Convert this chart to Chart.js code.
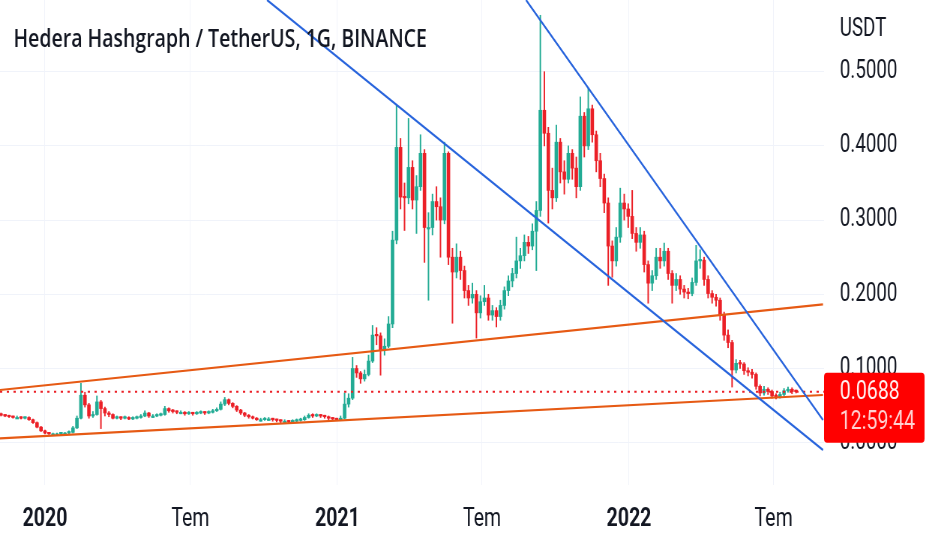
<!DOCTYPE html>
<html>
<head>
<meta charset="utf-8">
<title>HBAR / USDT</title>
<script src="https://cdn.jsdelivr.net/npm/chart.js@4.4.0/dist/chart.umd.min.js"></script>
<style>
  html, body { margin: 0; padding: 0; background: #fff; overflow: hidden; }
  /* the chart is laid out wide and squeezed horizontally, like the snapshot */
  #wrap { width: 1243px; height: 550px; transform: scaleX(0.7498); transform-origin: 0 0; }
</style>
</head>
<body>
<div id="wrap"><canvas id="chart" width="1243" height="550"></canvas></div>
<script>
// x values are days counted from 2020-01-01, one candle every 5 days
const firstDay = -55;
const dayStep = 5;
const firstOpen = 0.038;

const closes = [
  .037,.036,.035,.034,.034,.033,.034,.031,.027,.021,
  .016,.013,.012,.012,.012,.013,.013,.014,.020,.033,
  .064,.051,.036,.038,.055,.046,.040,.038,.033,.034,
  .033,.034,.032,.033,.034,.036,.040,.036,.036,.037,
  .038,.046,.043,.042,.041,.041,.039,.040,.039,.040,
  .041,.040,.041,.043,.045,.052,.058,.053,.049,.044,
  .040,.037,.035,.033,.031,.031,.032,.032,.031,.030,
  .029,.029,.028,.029,.030,.031,.034,.037,.036,.037,
  .036,.035,.033,.032,.031,.033,.052,.060,.100,.094,
  .086,.092,.110,.145,.144,.125,.130,.160,.273,.398,
  .331,.330,.371,.327,.345,.390,.290,.290,.325,.318,
  .300,.390,.250,.230,.250,.232,.205,.195,.200,.175,
  .190,.195,.172,.178,.170,.185,.205,.218,.228,.245,
  .252,.270,.265,.285,.313,.448,.417,.340,.330,.405,
  .365,.355,.390,.370,.345,.440,.400,.450,.415,.380,
  .356,.323,.265,.245,.277,.323,.315,.305,.282,.270,
  .280,.240,.215,.225,.250,.245,.258,.228,.212,.220,
  .207,.203,.201,.216,.245,.246,.220,.201,.196,.192,
  .172,.145,.135,.098,.107,.106,.097,.095,.092,.076,
  .067,.072,.069,.063,.062,.065,.070,.072,.069,.0688
];

const highs = [
  .040,.038,.037,.036,.036,.035,.035,.035,.032,.028,
  .022,.017,.014,.013,.013,.014,.014,.016,.022,.036,
  .080,.068,.053,.042,.063,.057,.048,.042,.039,.036,
  .035,.036,.035,.035,.036,.038,.043,.041,.038,.039,
  .040,.049,.047,.045,.043,.043,.042,.042,.041,.042,
  .043,.042,.043,.045,.047,.055,.061,.059,.054,.050,
  .045,.041,.038,.036,.034,.033,.034,.034,.033,.032,
  .031,.031,.030,.031,.032,.033,.036,.039,.039,.039,
  .038,.037,.036,.034,.033,.036,.067,.066,.115,.104,
  .096,.098,.118,.158,.155,.148,.140,.170,.285,.455,
  .410,.350,.437,.380,.360,.415,.395,.310,.335,.345,
  .330,.405,.392,.262,.268,.258,.238,.212,.215,.205,
  .198,.212,.200,.185,.182,.192,.210,.225,.235,.277,
  .262,.280,.278,.295,.325,.576,.500,.425,.370,.428,
  .410,.380,.400,.395,.385,.466,.445,.478,.455,.420,
  .390,.362,.330,.272,.290,.343,.335,.322,.340,.290,
  .290,.285,.245,.232,.262,.262,.269,.262,.232,.228,
  .225,.212,.208,.222,.266,.260,.250,.225,.205,.200,
  .195,.176,.152,.138,.112,.111,.108,.101,.099,.094,
  .078,.076,.074,.071,.066,.068,.073,.075,.074,.071
];

const lows = [
  .036,.035,.034,.033,.033,.032,.032,.030,.026,.020,
  .015,.012,.011,.011,.011,.011,.012,.012,.013,.019,
  .032,.048,.033,.034,.037,.019,.036,.035,.032,.032,
  .031,.032,.031,.031,.032,.033,.035,.034,.034,.035,
  .036,.037,.041,.040,.039,.039,.037,.038,.037,.038,
  .039,.038,.039,.040,.042,.044,.050,.051,.047,.042,
  .038,.035,.033,.032,.030,.029,.030,.030,.029,.028,
  .027,.027,.027,.027,.028,.029,.030,.033,.034,.035,
  .034,.033,.031,.030,.030,.030,.032,.048,.058,.088,
  .080,.083,.090,.108,.132,.091,.118,.128,.155,.268,
  .315,.286,.322,.315,.282,.340,.243,.192,.280,.300,
  .250,.295,.240,.161,.222,.220,.195,.185,.188,.141,
  .168,.185,.165,.165,.156,.165,.180,.198,.210,.222,
  .235,.245,.255,.260,.232,.305,.400,.296,.315,.325,
  .350,.335,.350,.355,.330,.340,.385,.395,.405,.365,
  .345,.310,.212,.223,.238,.270,.300,.290,.275,.258,
  .262,.230,.188,.205,.220,.235,.238,.220,.188,.205,
  .200,.195,.194,.198,.212,.235,.212,.195,.188,.184,
  .165,.138,.128,.075,.094,.100,.092,.090,.087,.072,
  .063,.064,.065,.060,.059,.060,.063,.068,.066,.067
];

// axis ticks
const tickDays = [0, 182, 366, 547, 731, 912];
const tickLabels = ['2020', 'Tem', '2021', 'Tem', '2022', 'Tem'];
const priceTicks = [0, 0.1, 0.2, 0.3, 0.4, 0.5];

// drawn trend lines, two anchor points each (day, price)
const blueUpper = [[277.9, 0.5966], [973.8, -0.0098]];
const blueLower = [[602.1, 0.5966], [973.8, 0.0306]];
const orangeUpper = [[-56.3, 0.0710], [973.8, 0.1865]];
const orangeLower = [[-56.3, 0.0059], [973.8, 0.0643]];

const lastPrice = 0.0688;
const countdown = '12:59:44';
const title = 'Hedera Hashgraph / TetherUS, 1G, BINANCE';

const xMin = -56.3, xMax = 975.1;
const yMin = -0.0570, yMax = 0.5966;

const upColor = '#22ab94';
const downColor = '#eb2027';

// candles open where the previous one closed
const opens = closes.map((c, i) => i === 0 ? firstOpen : closes[i - 1]);
const days = closes.map((c, i) => firstDay + i * dayStep);
const candleColors = closes.map((c, i) => c >= opens[i] ? upColor : downColor);

function trend(points, color) {
  return {
    type: 'line',
    data: points.map(p => ({ x: p[0], y: p[1] })),
    borderColor: color,
    borderWidth: 2.2,
    pointRadius: 0,
    fill: false,
    order: 0
  };
}

const overlay = {
  id: 'overlay',
  afterDraw(chart) {
    const ctx = chart.ctx;
    const area = chart.chartArea;
    const y = chart.scales.y;
    ctx.save();
    ctx.fillStyle = '#131722';
    ctx.font = '600 26px "Open Sans"';
    ctx.textAlign = 'left';
    ctx.textBaseline = 'alphabetic';
    ctx.fillText(title, 18, 47);

    ctx.font = '25px Roboto';
    ctx.textBaseline = 'middle';
    ctx.fillText('USDT', area.right + 21, 30);

    // last price label
    const py = y.getPixelForValue(lastPrice);
    ctx.fillStyle = '#ff0000';
    ctx.beginPath();
    ctx.roundRect(area.right, py - 19, 134, 70, 4);
    ctx.fill();
    ctx.font = '26px Roboto';
    ctx.fillStyle = 'rgba(255,255,255,0.95)';
    ctx.fillText(lastPrice.toFixed(4), area.right + 21, py + 1);
    ctx.fillStyle = 'rgba(255,255,255,0.82)';
    ctx.fillText(countdown, area.right + 21, py + 31);
    ctx.restore();
  }
};

new Chart(document.getElementById('chart'), {
  type: 'bar',
  data: {
    datasets: [
      trend(blueUpper, '#2864dc'),
      trend(blueLower, '#2864dc'),
      trend(orangeUpper, '#e65a14'),
      trend(orangeLower, '#e65a14'),
      {
        type: 'line',
        data: [{ x: xMin, y: lastPrice }, { x: xMax, y: lastPrice }],
        borderColor: downColor,
        borderWidth: 2,
        borderDash: [3, 6],
        pointRadius: 0,
        order: 0
      },
      {
        data: days.map((d, i) => ({ x: d, y: [opens[i], closes[i]] })),
        backgroundColor: candleColors,
        barThickness: 4,
        minBarLength: 1.5,
        grouped: false,
        order: 1
      },
      {
        data: days.map((d, i) => ({ x: d, y: [lows[i], highs[i]] })),
        backgroundColor: candleColors,
        barThickness: 1.3,
        grouped: false,
        order: 2
      }
    ]
  },
  options: {
    responsive: false,
    animation: false,
    layout: { padding: 0 },
    plugins: { legend: { display: false }, tooltip: { enabled: false } },
    scales: {
      x: {
        type: 'linear',
        min: xMin,
        max: xMax,
        offset: false,
        grid: { color: '#f0f3fa', drawTicks: false, offset: false },
        border: { display: false },
        afterBuildTicks: s => { s.ticks = tickDays.map(v => ({ value: v })); },
        afterFit: s => { s.height = 65; s.paddingLeft = 0; s.paddingRight = 0; },
        ticks: {
          autoSkip: false,
          maxRotation: 0,
          padding: 19,
          color: '#131722',
          font: c => ({ family: 'Roboto', size: 26, weight: /^\d/.test(tickLabels[c.index] || '') ? 'bold' : 'normal' }),
          callback: (v, i) => tickLabels[i]
        }
      },
      y: {
        position: 'right',
        min: yMin,
        max: yMax,
        grid: { color: '#f0f3fa', drawTicks: false },
        border: { display: false },
        afterBuildTicks: s => { s.ticks = priceTicks.map(v => ({ value: v })); },
        afterFit: s => { s.width = 144; s.paddingTop = 0; s.paddingBottom = 0; },
        ticks: {
          padding: 21,
          color: '#131722',
          font: { family: 'Roboto', size: 25 },
          callback: v => v.toFixed(4)
        }
      }
    }
  },
  plugins: [overlay]
});
</script>
</body>
</html>
